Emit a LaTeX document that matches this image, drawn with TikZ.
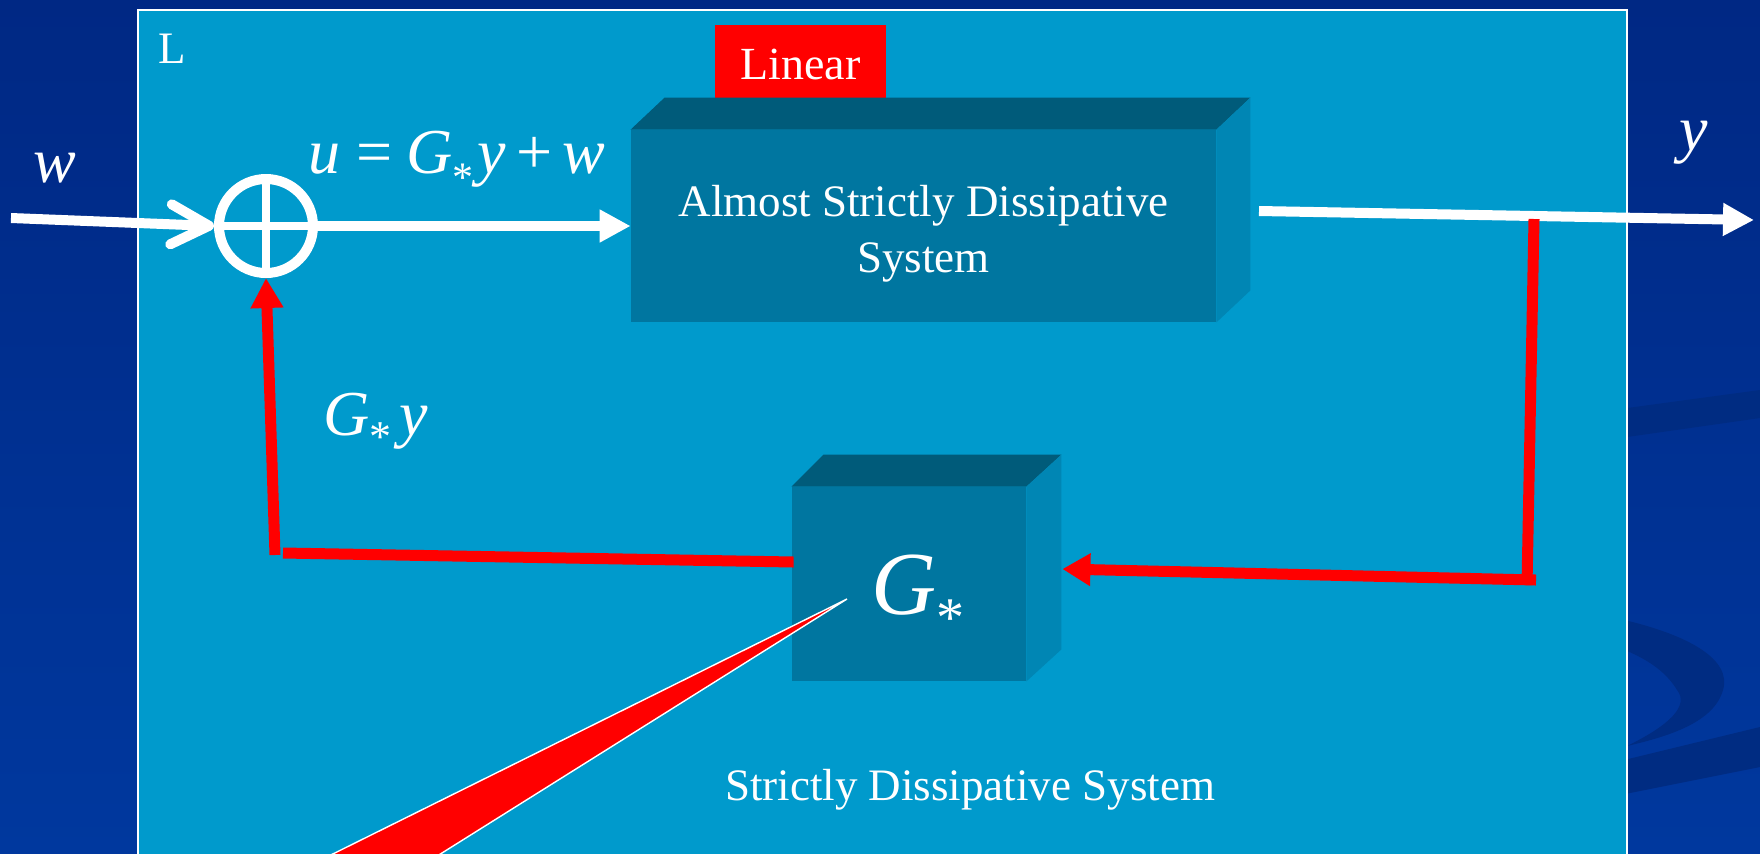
\documentclass[tikz,border=0pt]{standalone}
\usepackage{fontspec}
\setmainfont{Liberation Serif}
\usetikzlibrary{arrows.meta}
\definecolor{bgtop}{RGB}{0,40,132}
\definecolor{bgbot}{RGB}{0,56,158}
\definecolor{swoosh}{RGB}{0,44,130}
\definecolor{panel}{RGB}{0,154,204}
\definecolor{boxfront}{RGB}{0,118,160}
\definecolor{boxtop}{RGB}{0,91,122}
\definecolor{boxside}{RGB}{0,134,180}
\definecolor{hotred}{RGB}{255,0,0}
\newcommand{\subast}[2]{\raisebox{#2}{\fontsize{#1}{#1}\selectfont\upshape *}}
\begin{document}
\begin{tikzpicture}[x=0.5pt,y=-0.5pt,
  lbl/.style={text=white,inner sep=0pt,font=\fontsize{22.5}{28}\selectfont},
  mathlbl/.style={text=white,inner sep=0pt,font=\fontsize{32}{36}\selectfont\itshape},
  wire/.style={white,line width=5pt},
  fb/.style={hotred,line width=5.5pt},
  tri/.style={-{Triangle[length=15.5pt,width=15.5pt]}},
  cube/.style={fill=boxfront,inner sep=0pt,text=white,align=center},
  topface/.style={fill=boxtop},
  sideface/.style={fill=boxside}
]
\useasboundingbox (0,0) rectangle (1760,853);
\clip (0,0) rectangle (1760,853);
% background
\shade[top color=bgtop,bottom color=bgbot] (0,0) rectangle (1760,853);
\fill[swoosh] (1620,409) -- (1760,390) -- (1760,418) -- (1620,438) -- cycle;
\fill[swoosh] (1620,619) .. controls (1690,635) and (1732,660) .. (1723,690)
  .. controls (1714,722) and (1670,736) .. (1627,746)
  .. controls (1668,726) and (1690,706) .. (1677,690)
  .. controls (1665,670) and (1645,658) .. (1620,648) -- cycle;
\fill[swoosh] (1620,761) -- (1760,727) -- (1760,767) -- (1620,795) -- cycle;
% panel
\fill[panel,draw=white,line width=0.8pt] (138,10) rectangle (1627,900);
% labels
\node[lbl,anchor=base west] (Ltag) at (158,63) {L};
\node[fill=hotred,minimum width=85.5pt,minimum height=39pt,inner sep=0pt,text=white,
  font=\fontsize{23}{26}\selectfont] (lin) at (800.5,64) {Linear};
% main block
\node[cube,minimum width=292.5pt,minimum height=96pt] (asd) at (923.5,226) {};
\node[lbl,align=center] (asdtxt) at ([yshift=-4pt]asd.center) {Almost Strictly Dissipative\\System};
\fill[topface] (asd.north west) -- ++(34,-32) -- ([shift={(34,-32)}]asd.north east) -- (asd.north east) -- cycle;
\fill[sideface] (asd.north east) -- ++(34,-32) -- ([shift={(34,-32)}]asd.south east) -- (asd.south east) -- cycle;
% G* block
\node[cube,minimum width=117pt,minimum height=97pt] (gs) at (909,584) {};
\node[text=white,inner sep=0pt,anchor=base west,font=\fontsize{45}{50}\selectfont\itshape]
  (gstxt) at (871,614) {G\subast{28}{-11.4pt}};
\fill[topface] (gs.north west) -- ++(32,-32) -- ([shift={(35,-32)}]gs.north east) -- (gs.north east) -- cycle;
\fill[sideface] (gs.north east) -- ++(35,-32) -- ([shift={(35,-32)}]gs.south east) -- (gs.south east) -- cycle;
% summing junction
\node[circle,draw=white,line width=5pt,minimum size=47pt,inner sep=0pt] (sum) at (266,226) {};
\draw[white,line width=4pt] (sum.north) -- (sum.south);
\draw[white,line width=4pt] (sum.west) -- (sum.east);
% math labels
\node[mathlbl,anchor=base west] (wl) at (33,182) {w};
\node[mathlbl,anchor=base west] (ul) at (308,173)
  {u\hspace{0.25em}\upshape=\hspace{0.22em}\itshape G\subast{21}{-9pt}\hspace{0.06em}y\hspace{0.16em}\upshape+\hspace{0.16em}\itshape w};
\node[mathlbl,anchor=base west] (gyl) at (323,435) {G\subast{22}{-8.4pt}\hspace{0.12em}y};
\node[mathlbl,anchor=base west] (yl) at (1679,150) {y};
\node[lbl,anchor=base] (sds) at (970,800) {Strictly Dissipative System};
% white signal wires
\coordinate (win) at (11,218);
\draw[wire,-{Straight Barb[length=19pt,width=20pt,round]}] (win) -- (sum.west);
\draw[wire,tri] (sum.east) -- (asd.west);
\coordinate (yout0) at (1259,211);
\coordinate (yout1) at (1754,220);
\draw[wire,tri] (yout0) -- (yout1);
% red feedback
\coordinate (tap) at (1534,219);
\coordinate (cornerR) at (1527,585);
\coordinate (cornerR2) at (1536,580);
\coordinate (gsin) at ([shift={(36,-15)}]gs.east);
\draw[fb] (tap) -- (cornerR);
\draw[fb,-{Triangle[length=14pt,width=15.5pt]}] (cornerR2) -- (gsin);
\coordinate (gsout) at ([shift={(2,-22)}]gs.west);
\coordinate (cornerL) at (283,553);
\coordinate (cornerLv) at (275,555);
\draw[fb] (gsout) -- (cornerL);
\draw[fb,-{Triangle[length=15pt,width=15.5pt]}] (cornerLv) -- (sum.south);
% callout pointer
\coordinate (callout) at (847,599);
\fill[hotred,draw=white,line width=0.7pt] (callout) -- (367,900) -- (240,900) -- cycle;
\end{tikzpicture}
\end{document}
